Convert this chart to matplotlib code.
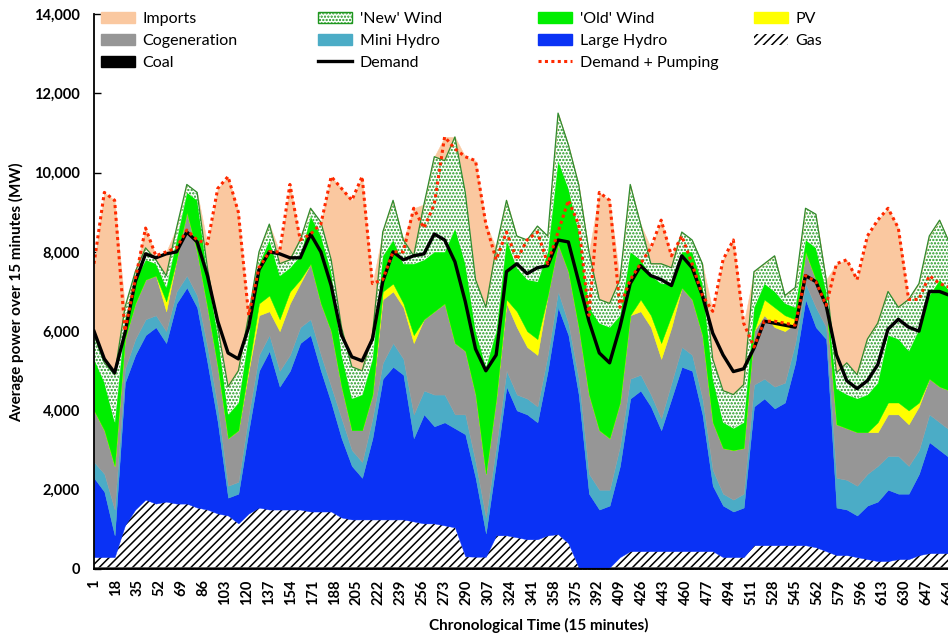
import numpy as np
import matplotlib
matplotlib.use("Agg")
import matplotlib.pyplot as plt
from matplotlib.patches import Patch
from matplotlib.lines import Line2D
from matplotlib.ticker import MultipleLocator, FixedLocator, FuncFormatter

plt.rcParams["font.family"] = ["Lato", "DejaVu Sans"]
plt.rcParams["hatch.linewidth"] = 1.1

# Chronological time index (15-minute steps), sampled every 8 steps
step = np.arange(1, 666, 8)

# Generation by source (MW)
coal = [40, 40, 40, 40, 40, 40, 40, 40, 40, 40,
        40, 40, 40, 40, 40, 40, 40, 40, 40, 40,
        40, 40, 40, 40, 40, 40, 40, 40, 40, 40,
        40, 40, 40, 40, 40, 40, 40, 40, 40, 40,
        40, 40, 40, 40, 40, 40, 40, 40, 40, 40,
        40, 40, 40, 40, 40, 40, 40, 40, 40, 40,
        40, 40, 40, 40, 40, 40, 40, 40, 40, 40,
        40, 40, 40, 40, 40, 40, 40, 40, 40, 40,
        40, 40, 40, 40]
gas = [260, 260, 260, 1060, 1460, 1710, 1610, 1660, 1610, 1610,
       1510, 1460, 1360, 1310, 1110, 1360, 1510, 1460, 1460, 1460,
       1460, 1410, 1410, 1410, 1260, 1210, 1210, 1210, 1210, 1210,
       1210, 1160, 1110, 1110, 1060, 1010, 280, 270, 270, 810,
       810, 760, 710, 710, 810, 840, 610, 0, 0, 0,
       0, 260, 410, 410, 410, 410, 410, 410, 410, 410,
       410, 260, 260, 260, 560, 560, 560, 560, 560, 560,
       510, 410, 310, 310, 260, 210, 160, 160, 210, 210,
       310, 360, 360, 360]
large_hydro = [2000, 1650, 550, 3600, 3900, 4150, 4450, 4000, 5050, 5450,
               5050, 3700, 2300, 450, 750, 2100, 3450, 4000, 3100, 3500,
               4200, 4450, 3550, 2750, 2000, 1350, 1050, 2050, 3550, 3850,
               3650, 2100, 2750, 2450, 2600, 2500, 3080, 1990, 590, 1850,
               3750, 3200, 3150, 2950, 4150, 5720, 5250, 4360, 1860, 1460,
               1560, 2300, 3850, 4050, 3650, 3050, 3850, 4650, 4550, 3450,
               1650, 1300, 1150, 1250, 3500, 3700, 3450, 3600, 4600, 6200,
               5550, 5350, 1200, 1150, 1050, 1350, 1500, 1800, 1650, 1650,
               2050, 2800, 2600, 2400]
mini_hydro = [400, 450, 650, 350, 400, 400, 300, 300, 300, 300,
              300, 400, 400, 300, 300, 400, 400, 400, 400, 400,
              400, 400, 400, 400, 500, 400, 400, 500, 400, 600,
              400, 600, 600, 800, 700, 350, 500, 400, 400, 400,
              400, 400, 400, 400, 400, 400, 300, 400, 500, 500,
              400, 500, 500, 400, 300, 300, 400, 500, 400, 400,
              400, 300, 300, 350, 550, 500, 550, 500, 500, 400,
              500, 300, 750, 750, 750, 800, 900, 850, 950, 700,
              600, 700, 700, 700]
cogeneration = [1300, 1100, 1100, 750, 900, 1000, 1000, 500, 800, 1600,
                1100, 1000, 1000, 1200, 1300, 1100, 1000, 600, 1000, 1300,
                1100, 1400, 1300, 1400, 800, 500, 800, 600, 1600, 1300,
                1300, 1800, 1800, 2100, 2300, 1800, 1600, 1700, 1100, 1200,
                1700, 1700, 1300, 1300, 1500, 1200, 1300, 1300, 2000, 1500,
                1300, 1100, 1600, 1600, 1700, 1500, 1400, 1500, 1400, 1600,
                1200, 1150, 1250, 1150, 1350, 1600, 1500, 1300, 500, 800,
                700, 600, 1350, 1300, 1350, 1050, 850, 1050, 1050, 1050,
                1100, 900, 900, 1000]
pv = [0, 0, 0, 0, 0, 0, 0, 250, 0, 0,
      0, 0, 0, 0, 0, 100, 300, 400, 300, 300,
      100, 0, 0, 0, 0, 0, 0, 0, 200, 200,
      100, 200, 0, 0, 0, 0, 0, 0, 0, 0,
      100, 400, 400, 400, 0, 0, 0, 0, 0, 0,
      0, 0, 0, 300, 300, 400, 300, 0, 0, 0,
      0, 0, 0, 0, 0, 400, 500, 400, 100, 0,
      0, 0, 0, 0, 0, 0, 250, 300, 300, 350,
      100, 0, 0, 0]
old_wind = [1300, 1200, 1100, 500, 600, 500, 300, 350, 500, 500,
            1300, 800, 800, 600, 700, 800, 1000, 1400, 1100, 600,
            600, 1200, 1700, 1500, 800, 800, 900, 900, 900, 1100,
            1000, 1800, 1500, 1500, 1300, 2900, 2200, 1600, 2700, 1700,
            1500, 1100, 1300, 1450, 1100, 2100, 2100, 2400, 2200, 2700,
            2800, 2200, 1600, 1000, 1000, 1500, 800, 900, 1200, 1300,
            1100, 650, 550, 650, 600, 400, 400, 300, 300, 300,
            800, 300, 900, 850, 850, 950, 1000, 1700, 1600, 1500,
            1850, 2100, 2700, 2500]
new_wind = [600, 500, 1200, 300, 200, 300, 100, 300, 300, 200,
            200, 200, 200, 700, 800, 500, 300, 400, 300, 200,
            400, 200, 350, 300, 700, 800, 600, 600, 600, 1000,
            600, 200, 1400, 2400, 2300, 2300, 1800, 1300, 1500, 2100,
            1000, 800, 1000, 1400, 400, 1200, 1100, 1200, 1400, 600,
            600, 900, 1700, 900, 300, 500, 400, 500, 300, 500,
            500, 800, 850, 950, 900, 500, 900, 200, 500, 800,
            850, 300, 400, 800, 600, 1400, 1500, 1100, 800, 1300,
            1150, 1500, 1500, 1200]
imports = [1800, 4300, 4400, 0, 0, 500, 100, 600, 0, 0,
           0, 600, 3500, 5300, 4000, 0, 0, 0, 300, 1900,
           0, 0, 0, 2100, 3500, 4200, 4900, 1300, 0, 0,
           0, 1200, 0, 0, 600, 0, 900, 3000, 2100, 0,
           0, 0, 0, 0, 0, 0, 0, 0, 0, 2700,
           2600, 0, 0, 0, 400, 1100, 300, 0, 0, 0,
           1200, 3300, 3900, 1550, 0, 0, 0, 0, 0, 0,
           0, 0, 2750, 2600, 2400, 2600, 2600, 2100, 2000, 0,
           0, 0, 0, 0]

# Load (MW)
demand = [6000, 5300, 4950, 5950, 7250, 7950, 7850, 7950, 8000, 8500,
          8250, 7400, 6250, 5450, 5300, 6100, 7550, 8000, 7950, 7850,
          7850, 8450, 8000, 7150, 5900, 5350, 5250, 5800, 7250, 8000,
          7800, 7900, 7950, 8450, 8300, 7750, 6750, 5550, 5000, 5400,
          7500, 7700, 7450, 7600, 7650, 8300, 8250, 7250, 6250, 5450,
          5200, 6100, 7200, 7650, 7400, 7300, 7150, 7900, 7600, 6900,
          5950, 5400, 4980, 5050, 5570, 6250, 6200, 6150, 6100, 7400,
          7250, 6650, 5400, 4750, 4550, 4750, 5150, 6050, 6300, 6100,
          6000, 7000, 7000, 6900]
demand_pumping = [7700, 9500, 9300, 6000, 7300, 8600, 7900, 8000, 8100, 8550,
                  8300, 8200, 9600, 9900, 9000, 6400, 7600, 8000, 8000, 9700,
                  8300, 8450, 8700, 9900, 9600, 9300, 9900, 7200, 7300, 8000,
                  8000, 9100, 8600, 9200, 10900, 10600, 10400, 10300, 8700, 7800,
                  8500, 7800, 8300, 8500, 7700, 8500, 9300, 8700, 6400, 9500,
                  9300, 6600, 7300, 7700, 8100, 8800, 7900, 8400, 7700, 6900,
                  6500, 7800, 8300, 6200, 5600, 6250, 6250, 6200, 6150, 7400,
                  7250, 6650, 7700, 7800, 7300, 8400, 8800, 9100, 8600, 6800,
                  6800, 7400, 7200, 7100]

COL_IMPORTS = "#FAC8A0"
COL_NEWWIND = "#1E961E"
COL_OLDWIND = "#00EE00"
COL_PV = "#FFFF00"
COL_COGEN = "#969696"
COL_MINI = "#4BACC6"
COL_LARGE = "#0A32F5"
COL_RED = "#FF2A00"

layers = [
    (coal, dict(facecolor="black", edgecolor="black", linewidth=0.3)),
    (gas, dict(facecolor="white", edgecolor="black", hatch="////", linewidth=0)),
    (large_hydro, dict(facecolor=COL_LARGE, edgecolor=COL_LARGE, linewidth=0.3)),
    (mini_hydro, dict(facecolor=COL_MINI, edgecolor=COL_MINI, linewidth=0.3)),
    (cogeneration, dict(facecolor=COL_COGEN, edgecolor=COL_COGEN, linewidth=0.3)),
    (pv, dict(facecolor=COL_PV, edgecolor=COL_PV, linewidth=0.3)),
    (old_wind, dict(facecolor=COL_OLDWIND, edgecolor=COL_OLDWIND, linewidth=0.3)),
    (new_wind, dict(facecolor="white", edgecolor=COL_NEWWIND, hatch=".....", linewidth=0)),
    (imports, dict(facecolor=COL_IMPORTS, edgecolor=COL_IMPORTS, linewidth=0.3)),
]

W, H = 948, 634
fig = plt.figure(figsize=(W / 100, H / 100), dpi=100)
ax = fig.add_axes([94 / W, 65 / H, 867.5 / W, 555 / H])

base = np.zeros(len(step))
wind_top = None
for values, style in layers:
    top = base + np.asarray(values, dtype=float)
    ax.fill_between(step, base, top, zorder=2, **style)
    if values is new_wind:
        wind_top = top.copy()
    base = top

ax.plot(step, wind_top, color="#2E8B2E", lw=0.9, zorder=3)
ax.plot(step, demand, color="black", lw=2.4, zorder=4, solid_joinstyle="round")
ax.plot(step, demand_pumping, color=COL_RED, lw=2.2, zorder=5,
        linestyle=(0, (1, 1.1)))

ax.set_xlim(1, 674)
ax.set_ylim(0, 14000)
for side in ("top", "right"):
    ax.spines[side].set_visible(False)
for side in ("left", "bottom"):
    ax.spines[side].set_linewidth(1.3)
    ax.spines[side].set_zorder(6)

ax.yaxis.set_major_locator(MultipleLocator(2000))
ax.yaxis.set_major_formatter(FuncFormatter(lambda v, p: f"{v:,.0f}"))
ax.xaxis.set_major_locator(FixedLocator(list(range(1, 682, 17))))
ax.xaxis.set_minor_locator(MultipleLocator(1))
ax.tick_params(axis="x", which="both", direction="in", length=4, width=0.7, pad=7.5)
ax.tick_params(axis="y", which="major", direction="in", length=5, width=1.0, pad=10)
for lab in ax.get_xticklabels():
    lab.set_rotation(90)
    lab.set_fontweight("bold")
    lab.set_fontsize(10.5)
for lab in ax.get_yticklabels():
    lab.set_fontweight("bold")
    lab.set_fontsize(10.5)

fig.text(17 / W, 1 - 292 / H, "Average power over 15 minutes (MW)", rotation=90,
         ha="center", va="center", fontsize=11, fontweight="bold")
fig.text(539 / W, 1 - 625 / H, "Chronological Time (15 minutes)",
         ha="center", va="center", fontsize=11, fontweight="bold")

h_imports = Patch(facecolor=COL_IMPORTS, edgecolor=COL_IMPORTS)
h_cogen = Patch(facecolor=COL_COGEN, edgecolor=COL_COGEN)
h_coal = Patch(facecolor="black", edgecolor="black")
h_new = Patch(facecolor="white", edgecolor=COL_NEWWIND, hatch=".....", linewidth=1)
h_mini = Patch(facecolor=COL_MINI, edgecolor=COL_MINI)
h_demand = Line2D([], [], color="black", lw=2.4)
h_old = Patch(facecolor=COL_OLDWIND, edgecolor=COL_OLDWIND)
h_large = Patch(facecolor=COL_LARGE, edgecolor=COL_LARGE)
h_dp = Line2D([], [], color=COL_RED, lw=2.2, linestyle=(0, (1, 1.1)))
h_pv = Patch(facecolor=COL_PV, edgecolor=COL_PV)
h_gas = Patch(facecolor="white", edgecolor="black", hatch="////", linewidth=0)

legend_columns = [
    (101, [h_imports, h_cogen, h_coal], ["Imports", "Cogeneration", "Coal"]),
    (318, [h_new, h_mini, h_demand], ["'New' Wind", "Mini Hydro", "Demand"]),
    (538, [h_old, h_large, h_dp], ["'Old' Wind", "Large Hydro", "Demand + Pumping"]),
    (754, [h_pv, h_gas], ["PV", "Gas"]),
]
for x_px, handles, labels in legend_columns:
    fig.legend(handles, labels, loc="upper left",
               bbox_to_anchor=(x_px / W, 1 - 12 / H), frameon=False,
               fontsize=11.5, handlelength=2.1, handleheight=0.7,
               handletextpad=0.5, labelspacing=0.48, borderpad=0,
               borderaxespad=0)

fig.savefig("out.png", dpi=100)
